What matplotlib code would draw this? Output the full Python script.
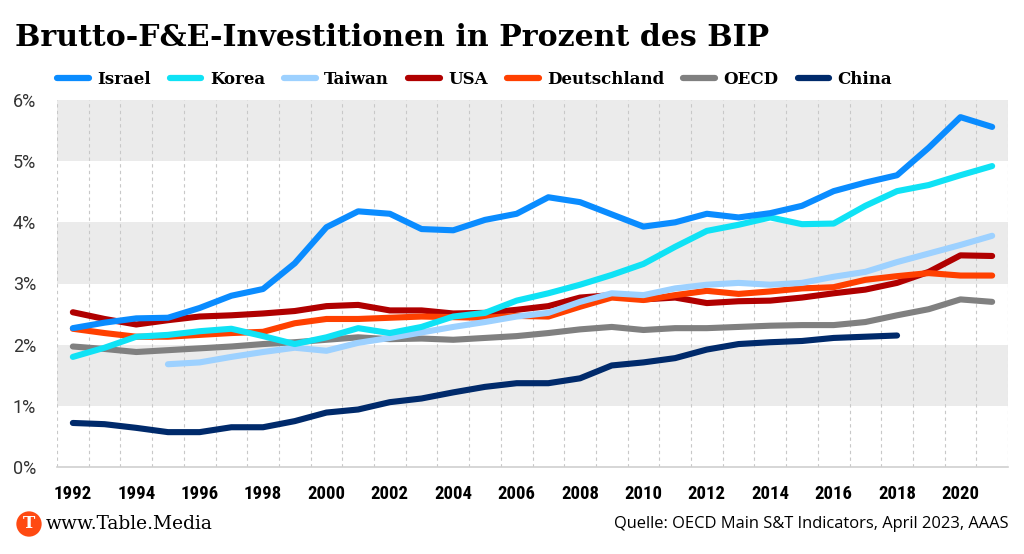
import matplotlib.pyplot as plt
from matplotlib.ticker import FixedLocator, FuncFormatter

years = list(range(1992, 2022))

israel = [2.27, 2.36, 2.43, 2.44, 2.60, 2.80, 2.91, 3.33, 3.92, 4.18, 4.14, 3.89, 3.87, 4.04,
          4.14, 4.41, 4.33, 4.13, 3.93, 4.00, 4.14, 4.08, 4.15, 4.27, 4.51, 4.65, 4.77, 5.22,
          5.72, 5.56]
korea = [1.80, 1.95, 2.13, 2.16, 2.22, 2.26, 2.14, 2.01, 2.12, 2.27, 2.19, 2.29, 2.46, 2.52,
         2.72, 2.84, 2.98, 3.14, 3.32, 3.60, 3.86, 3.96, 4.08, 3.97, 3.98, 4.27, 4.51, 4.61,
         4.77, 4.92]
taiwan_years = list(range(1995, 2022))
taiwan = [1.68, 1.71, 1.80, 1.88, 1.95, 1.90, 2.03, 2.11, 2.20, 2.29, 2.37, 2.46, 2.52, 2.70,
          2.84, 2.81, 2.92, 2.98, 3.01, 2.98, 3.01, 3.11, 3.19, 3.35, 3.49, 3.63, 3.78]
usa = [2.53, 2.42, 2.33, 2.40, 2.46, 2.48, 2.51, 2.55, 2.63, 2.65, 2.56, 2.56, 2.51, 2.52,
       2.57, 2.63, 2.77, 2.81, 2.74, 2.77, 2.68, 2.71, 2.72, 2.77, 2.84, 2.90, 3.01, 3.19,
       3.46, 3.45]
deutschland = [2.26, 2.19, 2.13, 2.13, 2.16, 2.19, 2.21, 2.35, 2.42, 2.42, 2.44, 2.46, 2.45,
               2.44, 2.47, 2.46, 2.62, 2.77, 2.73, 2.81, 2.88, 2.83, 2.87, 2.92, 2.94, 3.06,
               3.12, 3.17, 3.13, 3.13]
oecd = [1.97, 1.93, 1.88, 1.91, 1.94, 1.97, 2.01, 2.04, 2.08, 2.12, 2.09, 2.10, 2.08, 2.11,
        2.14, 2.19, 2.25, 2.29, 2.24, 2.27, 2.27, 2.29, 2.31, 2.32, 2.32, 2.37, 2.48, 2.58,
        2.74, 2.70]
china_years = list(range(1992, 2019))
china = [0.72, 0.70, 0.64, 0.57, 0.57, 0.65, 0.65, 0.75, 0.89, 0.94, 1.06, 1.12, 1.22, 1.31,
         1.37, 1.37, 1.45, 1.66, 1.71, 1.78, 1.92, 2.01, 2.04, 2.06, 2.11, 2.13, 2.15]

fig = plt.figure(figsize=(10.24, 5.54), dpi=100)
ax = fig.add_axes([57/1024, 1 - 467/554, (1008 - 57)/1024, (467 - 100)/554])

# grey bands
for lo in (1, 3, 5):
    ax.axhspan(lo, lo + 1, color='#ebebeb', lw=0, zorder=0)

lw = 4.4
series = [
    ("Israel", years, israel, '#0a8cff', 9),
    ("Korea", years, korea, '#0fe2f5', 8),
    ("Taiwan", taiwan_years, taiwan, '#9dd1ff', 7),
    ("USA", years, usa, '#b00000', 5),
    ("Deutschland", years, deutschland, '#ff4000', 6),
    ("OECD", years, oecd, '#808080', 4),
    ("China", china_years, china, '#002a6b', 3),
]
for name, xs, ys, col, z in series:
    ax.plot(xs, ys, color=col, lw=lw, label=name, zorder=z,
            solid_capstyle='round', solid_joinstyle='round')

ax.set_xlim(1991.5, 2021.5)
ax.set_ylim(0, 6)
ax.xaxis.set_major_locator(FixedLocator(list(range(1992, 2021, 2))))
ax.xaxis.set_minor_locator(FixedLocator([y + 0.5 for y in range(1991, 2022)]))
ax.yaxis.set_major_locator(FixedLocator(range(0, 7)))
ax.yaxis.set_major_formatter(FuncFormatter(lambda v, p: f"{int(v)}%"))
ax.grid(which='minor', axis='x', color='#c8c8c8', ls=(0, (3, 3)), lw=0.8, zorder=1)
ax.tick_params(which='both', length=0)
ax.tick_params(axis='x', pad=13, labelsize=13.5)
ax.tick_params(axis='y', pad=15, labelsize=13)
for t in ax.get_xticklabels():
    t.set_fontweight('bold')
    t.set_family(['Roboto Condensed', 'DejaVu Sans'])
for t in ax.get_yticklabels():
    t.set_family(['Roboto', 'DejaVu Sans'])
    t.set_color('#333333')
for s in ('top', 'right', 'left'):
    ax.spines[s].set_visible(False)
ax.spines['bottom'].set_color('#d0d0d0')
ax.spines['bottom'].set_linewidth(1.2)

fig.text(15/1024, 1 - 37/554, "Brutto-F&E-Investitionen in Prozent des BIP",
         fontsize=21.6, fontweight='bold', family='DejaVu Serif', va='center', ha='left')

leg = fig.legend(loc='center left', bbox_to_anchor=(57/1024, 1 - 79/554), ncol=7,
                 frameon=False, handlelength=1.9, handletextpad=0.5, columnspacing=1.15,
                 borderpad=0, borderaxespad=0,
                 prop={'family': 'DejaVu Serif', 'weight': 'bold', 'size': 12.0})
for h in leg.get_lines():
    h.set_linewidth(4.5)
    h.set_solid_capstyle('round')

# footer
fig.text(29/1024, 1 - 524/554, "T", color='white', fontsize=12, fontweight='bold',
         family='DejaVu Serif', ha='center', va='center',
         bbox=dict(boxstyle='circle,pad=0.25', fc='#ff4a12', ec='none'))
fig.text(46/1024, 1 - 524/554, "www.Table.Media", fontsize=13.4, family='DejaVu Serif',
         ha='left', va='center')
fig.text(1008/1024, 1 - 524/554, "Quelle: OECD Main S&T Indicators, April 2023, AAAS",
         fontsize=11.9, family=['Open Sans', 'DejaVu Sans'], ha='right', va='center')

fig.savefig('out.png', dpi=100, facecolor='white')
